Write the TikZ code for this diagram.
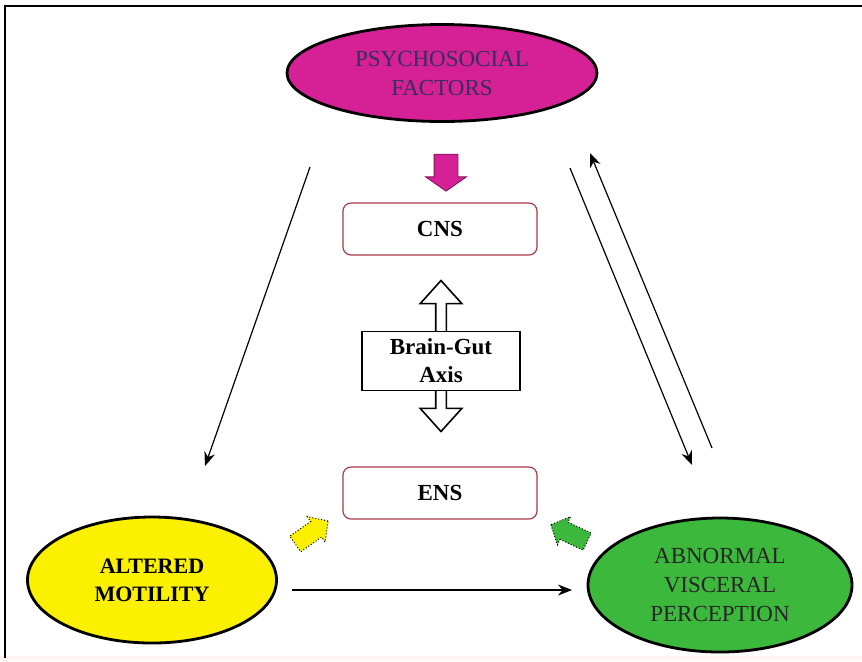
\documentclass[tikz,border=0pt]{standalone}
\usepackage{fontspec}
\setmainfont{Liberation Serif}
\usepackage{tikz}
\usetikzlibrary{shapes.geometric, shapes.arrows, arrows.meta}
\definecolor{psychopink}{RGB}{214,32,150}
\definecolor{motilyellow}{RGB}{250,240,0}
\definecolor{viscgreen}{RGB}{60,185,60}
\definecolor{boxred}{RGB}{165,60,70}
\definecolor{psychotext}{RGB}{55,45,95}
\tikzstyle{arrow} = [line width=0.6pt, -{Stealth[length=7pt,width=5.5pt]}]
\tikzstyle{factor} = [ellipse, draw=black, line width=1.4pt, text centered, align=center, font=\fontsize{11.5}{14.5}\selectfont]
\tikzstyle{system} = [rectangle, rounded corners=4pt, minimum width=97pt, minimum height=26pt, text centered, draw=boxred, line width=0.6pt, font=\fontsize{11.5}{14}\selectfont\bfseries]
\tikzstyle{axisbox} = [rectangle, minimum width=79pt, minimum height=29.5pt, align=center, draw=black, fill=white, line width=0.8pt, font=\fontsize{11.5}{14}\selectfont\bfseries]
\tikzstyle{blockarrow} = [single arrow, inner xsep=0pt, inner ysep=4.5pt, minimum width=0pt, minimum height=20pt, single arrow head extend=3pt, single arrow tip angle=94, draw=black, line width=0.5pt, densely dotted]

\begin{document}
\begin{tikzpicture}[x=0.5pt, y=-0.5pt]
    \useasboundingbox (0,0) rectangle (862,661);
    \fill [white] (0,0) rectangle (862,661);
    \fill [red!4] (0,656) rectangle (862,661);
    \draw [line width=1pt] (5,658) -- (5,6) -- (862,6);

    \node (psycho) [factor, fill=psychopink, text=psychotext, minimum width=155pt, minimum height=48.5pt] at (442,73) {PSYCHOSOCIAL\\FACTORS};
    \node (cns) [system] at (440,229) {CNS};
    \node (axisarrow) [double arrow, inner xsep=0pt, inner ysep=2.25pt, minimum width=0pt, minimum height=75.5pt, double arrow head extend=7.75pt, double arrow tip angle=84, draw=black, line width=0.8pt, rotate=90] at (441,356) {};
    \node (axis) [axisbox] at (441,361) {Brain-Gut\\Axis};
    \node (ens) [system] at (440,493) {ENS};
    \node (motility) [factor, fill=motilyellow, font=\fontsize{11}{14}\selectfont\bfseries, minimum width=124.5pt, minimum height=63pt] at (152,580) {ALTERED\\MOTILITY};
    \node (visceral) [factor, fill=viscgreen, text=black!85, minimum width=132pt, minimum height=67pt] at (720,585) {ABNORMAL\\VISCERAL\\PERCEPTION};

    \node (psychoarrow) [single arrow, inner xsep=0pt, inner ysep=5.75pt, minimum width=0pt, minimum height=18.5pt, single arrow head extend=4.25pt, single arrow tip angle=110, fill=psychopink, draw=psychopink!60!black, line width=0.4pt, rotate=-90] at (446,168.5) {};
    \node (motilarrow) [blockarrow, fill=motilyellow, rotate=35] at (308,535) {};
    \node (viscarrow) [blockarrow, fill=viscgreen, rotate=155] at (573,535) {};

    \coordinate (leftstart) at (310,167);
    \coordinate (leftend) at (205,466);
    \coordinate (downstart) at (570,168);
    \coordinate (downend) at (692,465);
    \coordinate (upstart) at (712,448);
    \coordinate (upend) at (590,153);
    \coordinate (motilend) at (292,590);
    \coordinate (viscend) at (572,590);

    \draw [arrow] (leftstart) -- (leftend);
    \draw [arrow] (downstart) -- (downend);
    \draw [arrow] (upstart) -- (upend);
    \draw [arrow] (motilend) -- (viscend);

\end{tikzpicture}
\end{document}
